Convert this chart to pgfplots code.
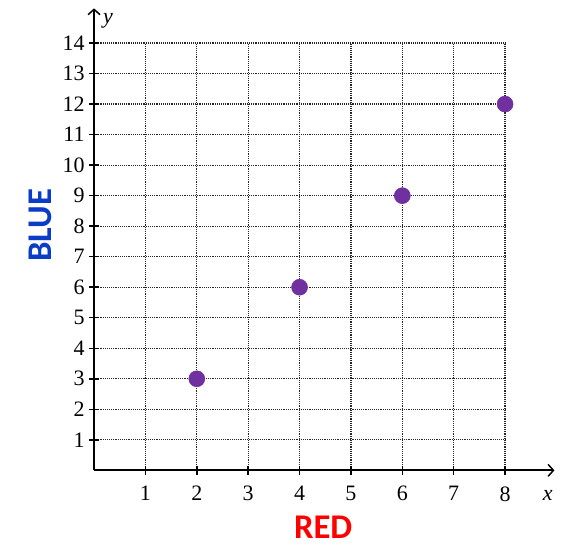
\documentclass[border=0pt]{standalone}
\usepackage{pgfplots}
\pgfplotsset{compat=1.18}
\usepackage{fontspec}
\setmainfont{Liberation Serif}
\newfontfamily\labelfont{Carlito}
\usetikzlibrary{arrows.meta}
\definecolor{dotpurple}{HTML}{7030A0}
\definecolor{labelblue}{HTML}{0A3CC8}
\definecolor{labelred}{HTML}{FF0000}
\begin{document}
\begin{tikzpicture}
\begin{axis}[
  x=38.55pt, y=22.9pt,
  xmin=0, xmax=8, ymin=0, ymax=14,
  axis lines=left, clip=false,
  xtick={1,...,8}, ytick={1,...,14},
  grid=major,
  grid style={densely dotted, black!85, line width=0.9pt},
  tick align=center, major tick length=7pt,
  tick style={black, line width=1.1pt},
  axis line style={line width=1.6pt, -{Straight Barb[length=4pt, width=9pt, line width=1.1pt]}},
  x axis line style={shorten >=-37pt},
  y axis line style={shorten >=-26pt},
  ticklabel style={font=\fontsize{16.5}{16.5}\selectfont},
  x tick label style={yshift=-5pt},
  /pgf/number format/assume math mode=true,
]
\addplot[only marks, mark=*, mark size=6pt, color=dotpurple] coordinates {
  (2,3) (4,6) (6,9) (8,12)
};
\node[font=\itshape\fontsize{16.5}{16.5}\selectfont] at (axis cs:8.83,-0.82) {x};
\node[font=\itshape\fontsize{16.5}{16.5}\selectfont] at (axis cs:0.27,14.72) {y};
\node[font=\labelfont\bfseries\fontsize{26}{26}\selectfont, text=labelblue, rotate=90] at (axis cs:-1.05,8.03) {BLUE};
\node[font=\labelfont\bfseries\fontsize{26}{26}\selectfont, text=labelred] at (axis cs:4.46,-1.87) {RED};
\path (axis cs:-1.83,-2.59) rectangle (axis cs:9.38,15.41);
\end{axis}
\end{tikzpicture}
\end{document}
